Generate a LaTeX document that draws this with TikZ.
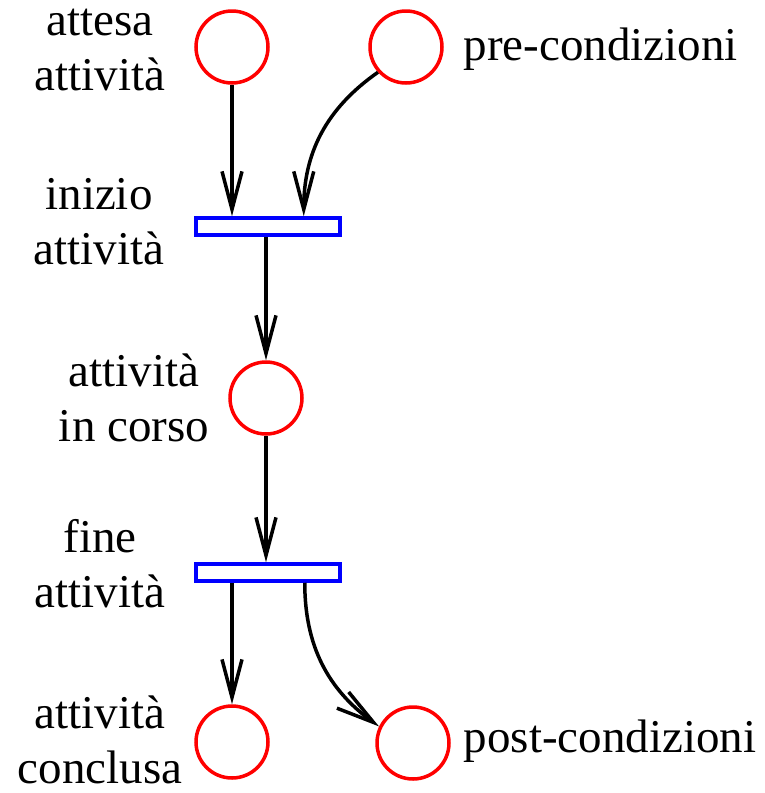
\documentclass[tikz,border=0pt]{standalone}
\usepackage{fontspec}
\setmainfont{Liberation Serif}
\usetikzlibrary{arrows.meta}

\begin{document}
\begin{tikzpicture}[x=1pt, y=-1pt, line width=3.5pt, >={Straight Barb[length=38pt, width=20pt]},
  place/.style={circle, draw=red, minimum size=72pt, inner sep=0pt},
  trans/.style={rectangle, draw=blue, fill=white, minimum width=144pt, minimum height=17pt, inner sep=0pt},
  lbl/.style={inner sep=0pt, align=center, font=\fontsize{47}{55}\selectfont}]

  \useasboundingbox (0,0) rectangle (764,793);

  % Places
  \node[place] (P1) at (232,47)  {};
  \node[place] (P2) at (406,47)  {};
  \node[place] (P3) at (266,398) {};
  \node[place] (P4) at (232,742) {};
  \node[place] (P5) at (413,743) {};

  % Transitions
  \node[trans] (T1) at (268,226.5) {};
  \node[trans] (T2) at (268,572.5) {};

  % Labels
  \node[lbl] (L1) at (100,50)  {attesa\\attività};
  \node[lbl, anchor=base west] (L2) at (462,60) {pre-condizioni};
  \node[lbl] (L3) at (99,222)  {inizio\\attività};
  \node[lbl] (L4) at (134,398) {attività\\in corso};
  \node[lbl] (L5) at (100,564) {fine\\attività};
  \node[lbl] (L6) at (100,740) {attività\\conclusa};
  \node[lbl, anchor=base west] (L7) at (462,752) {post-condizioni};

  % Arcs
  \draw[->] (P1) -- (P1 |- T1.north);
  \draw[->] (P2.222) to[out=215, in=90] ([xshift=-38pt]T1.north east);
  \draw[->] (T1.south -| P3) -- (P3);
  \draw[->] (P3) -- (P3 |- T2.north);
  \draw[->] (T2.south -| P4) -- (P4);
  \draw[->] ([xshift=-37pt]T2.south east) to[out=-90, in=144] (P5.154);

\end{tikzpicture}
\end{document}
